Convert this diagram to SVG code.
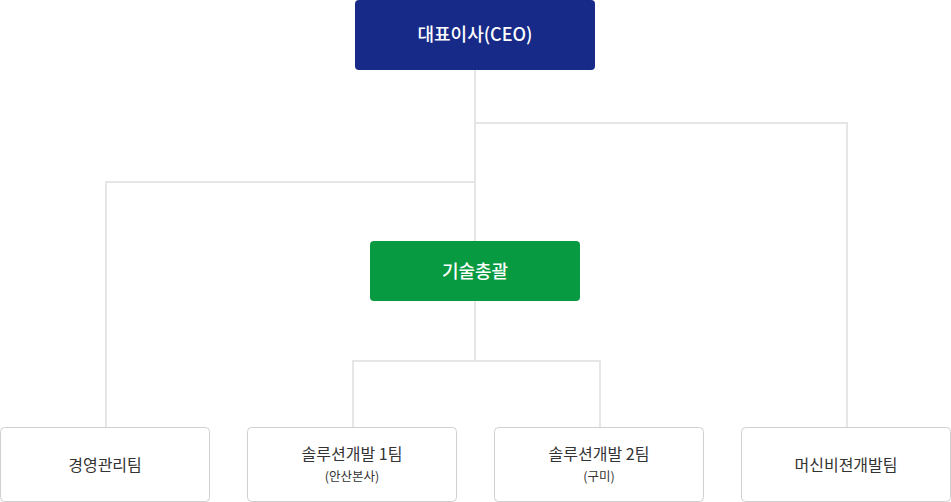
<svg xmlns="http://www.w3.org/2000/svg" width="951" height="502" viewBox="0 0 951 502">
<style>
.t{font-family:"Noto Sans CJK KR","Noto Sans",sans-serif;text-anchor:middle;dominant-baseline:central}
.w{fill:#fff;font-size:18px;font-weight:500}
.d{fill:#333;font-size:16px}
.s{fill:#333;font-size:12.5px}
.box{fill:#fff;stroke:#d0d0d0;stroke-width:1}
.ln{fill:none;stroke:#e6e6e6;stroke-width:2}
</style>
<rect width="951" height="502" fill="#fff"/>
<g id="connectors">
<path class="ln" d="M475 70 V241"/>
<path class="ln" d="M475 123 H847 V427"/>
<path class="ln" d="M475 182 H106 V427"/>
<path class="ln" d="M475 301 V361 H353 V427"/>
<path class="ln" d="M475 361 H600 V427"/>
</g>
<g id="ceo">
<rect x="355" y="0" width="240" height="70" rx="4" fill="#172a88"/>
<text class="t w" x="475" y="33">대표이사(CEO)</text>
</g>
<g id="tech">
<rect x="370" y="241" width="210" height="60" rx="4" fill="#079a40"/>
<text class="t w" x="475" y="269.5">기술총괄</text>
</g>
<g id="mgmt">
<rect class="box" x="0.5" y="427.5" width="209" height="74" rx="4"/>
<text class="t d" x="105" y="463.5">경영관리팀</text>
</g>
<g id="sol1">
<rect class="box" x="247.5" y="427.5" width="209" height="74" rx="4"/>
<text class="t d" x="352" y="453">솔루션개발 1팀</text>
<text class="t s" x="352" y="475.5">(안산본사)</text>
</g>
<g id="sol2">
<rect class="box" x="494.5" y="427.5" width="209" height="74" rx="4"/>
<text class="t d" x="599" y="453">솔루션개발 2팀</text>
<text class="t s" x="599" y="475.5">(구미)</text>
</g>
<g id="mv">
<rect class="box" x="741.5" y="427.5" width="209" height="74" rx="4"/>
<text class="t d" x="846" y="463.5">머신비젼개발팀</text>
</g>
</svg>
